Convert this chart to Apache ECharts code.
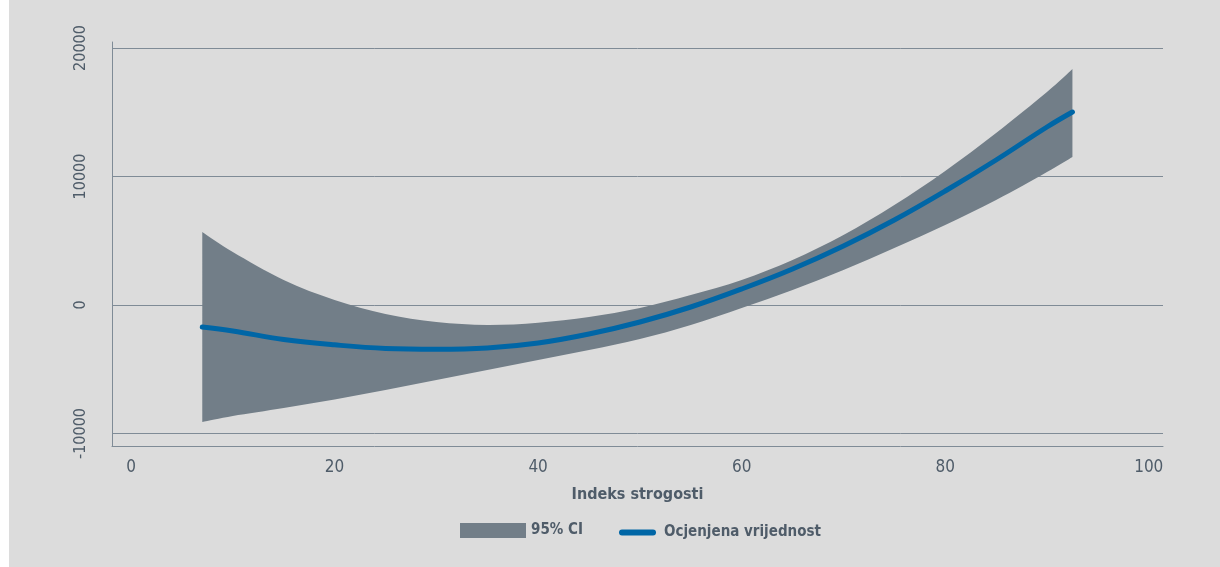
<!DOCTYPE html>
<html>
<head>
<meta charset="utf-8">
<script src="https://cdn.jsdelivr.net/npm/echarts@6/dist/echarts.min.js"></script>
<style>
html,body{margin:0;padding:0;background:#ffffff;}
#c{width:1220px;height:567px;}
</style>
</head>
<body>
<div id="c"></div>
<script>
// Data
const xValues = [7, 10, 15, 20, 25, 30, 35, 40, 45, 50, 55, 60, 65, 70, 75, 80, 85, 90, 92.5];
const estimate = [-1712, -2023, -2680, -3100, -3380, -3440, -3346, -2957, -2257, -1323, -156, 1245, 2802, 4591, 6615, 8871, 11284, 13852, 15019];
const ciUpper = [5681, 4124, 1946, 389, -700, -1330, -1556, -1377, -934, -233, 778, 1946, 3502, 5447, 7782, 10428, 13385, 16576, 18366];
const ciLower = [-9105, -8638, -8015, -7354, -6615, -5837, -5058, -4280, -3502, -2646, -1556, -233, 1167, 2724, 4436, 6226, 8171, 10350, 11517];
const xTicks = [0, 20, 40, 60, 80, 100];
const yTicks = [-10000, 0, 10000, 20000];
const legendNames = ['95% CI', 'Ocjenjena vrijednost'];
const xAxisName = 'Indeks strogosti';

const FONT = "'Liberation Sans Narrow', 'DejaVu Sans Condensed', 'DejaVu Sans', sans-serif";
const bandColor = '#727e88';
const lineColor = '#0066a6';
const gridColor = '#7f8b96';
const textColor = '#4f5c69';

// smooth path through pixel points (Catmull-Rom -> cubic Bezier), for drawing only
function splinePath(pts, start) {
  let d = (start ? 'M' : 'L') + pts[0][0] + ',' + pts[0][1];
  for (let i = 0; i < pts.length - 1; i++) {
    const p0 = pts[Math.max(i - 1, 0)], p1 = pts[i], p2 = pts[i + 1], p3 = pts[Math.min(i + 2, pts.length - 1)];
    const c1 = [p1[0] + (p2[0] - p0[0]) / 6, p1[1] + (p2[1] - p0[1]) / 6];
    const c2 = [p2[0] - (p3[0] - p1[0]) / 6, p2[1] - (p3[1] - p1[1]) / 6];
    d += 'C' + c1[0] + ',' + c1[1] + ' ' + c2[0] + ',' + c2[1] + ' ' + p2[0] + ',' + p2[1];
  }
  return d;
}

const chart = echarts.init(document.getElementById('c'));
chart.setOption({
  backgroundColor: '#dcdcdc',
  animation: false,
  textStyle: { fontFamily: FONT },
  graphic: [{ type: 'rect', left: 0, top: 0, shape: { width: 9, height: 567 }, style: { fill: '#ffffff' }, silent: true }],
  grid: { left: 112, right: 57, top: 42, bottom: 121, containLabel: false },
  legend: [
    { data: [legendNames[0]], left: 460, top: 523, padding: 0, icon: 'rect', itemWidth: 66, itemHeight: 15, itemGap: 0,
      textStyle: { fontFamily: FONT, fontSize: 15, fontWeight: 'bold', color: textColor, padding: [6, 0, 0, 0] }, selectedMode: false },
    { data: [legendNames[1]], left: 619, top: 525, padding: 0, icon: 'path://M3,0 H34 A3,3 0 0 1 34,6 H3 A3,3 0 0 1 3,0 Z', itemWidth: 37, itemHeight: 6,
      textStyle: { fontFamily: FONT, fontSize: 15, fontWeight: 'bold', color: textColor, padding: [0, 0, 0, 3] }, selectedMode: false }
  ],
  xAxis: {
    type: 'value', min: -1.87, max: 101.4,
    name: xAxisName, nameLocation: 'middle', nameGap: 41,
    nameTextStyle: { fontFamily: FONT, fontSize: 16, fontWeight: 'bold', color: textColor },
    axisLine: { show: true, onZero: false, lineStyle: { color: gridColor, width: 1 } },
    axisTick: { show: false, customValues: xTicks },
    axisLabel: { customValues: xTicks, fontSize: 17, color: textColor, margin: 13, fontFamily: FONT, formatter: v => String(v) },
    splitLine: { show: false }
  },
  yAxis: {
    type: 'value', min: -10973, max: 20467,
    axisLine: { show: true, onZero: false, lineStyle: { color: gridColor, width: 1 } },
    axisTick: { show: false, customValues: yTicks },
    axisLabel: { customValues: yTicks, rotate: 90, fontSize: 16, color: textColor, margin: 23, fontFamily: FONT, formatter: v => String(v) },
    splitLine: { show: true, lineStyle: { color: gridColor, width: 1 } }
  },
  series: [
    { name: legendNames[0], type: 'custom', data: [0], itemStyle: { color: bandColor }, z: 2,
      renderItem: function (params, api) {
        const up = xValues.map((x, i) => api.coord([x, ciUpper[i]]));
        const lo = xValues.map((x, i) => api.coord([x, ciLower[i]])).reverse();
        const d = splinePath(up, true) + splinePath(lo, false) + 'Z';
        return { type: 'path', shape: { pathData: d }, style: { fill: bandColor, stroke: null } };
      }
    },
    { name: legendNames[1], type: 'line', smooth: 0.4, symbol: 'none',
      data: xValues.map((x, i) => [x, estimate[i]]),
      lineStyle: { width: 5, color: lineColor, cap: 'round' }, itemStyle: { color: lineColor }, z: 3 }
  ]
});
</script>
</body>
</html>
